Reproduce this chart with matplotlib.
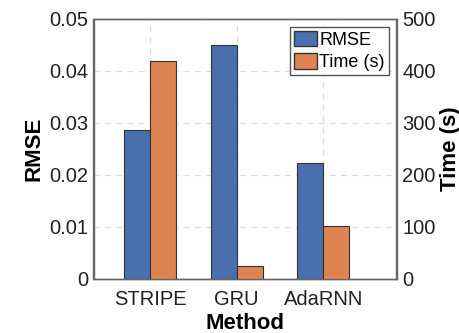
import matplotlib
matplotlib.use("Agg")
import matplotlib.pyplot as plt
import numpy as np
from matplotlib.patches import Patch

plt.rcParams['font.family'] = ['Liberation Sans', 'DejaVu Sans']

methods = ["STRIPE", "GRU", "AdaRNN"]
rmse = [0.0286, 0.0449, 0.0222]
time_s = [419, 25, 101]
rmse_ticks = [0, 0.01, 0.02, 0.03, 0.04, 0.05]
rmse_ticklabels = ["0", "0.01", "0.02", "0.03", "0.04", "0.05"]
time_ticks = [0, 100, 200, 300, 400, 500]

blue = "#4a6fae"
orange = "#de8352"
edge = "#333333"

fig = plt.figure(figsize=(4.6, 3.33), dpi=100)
ax = fig.add_axes([93.5/460, 1-278.5/333, 303/460, 259.5/333])
ax2 = ax.twinx()

x = np.arange(1, len(methods)+1)
w = 0.3
ax.bar(x - w/2, rmse, w, color=blue, edgecolor=edge, linewidth=0.8, zorder=3)
ax2.bar(x + w/2, time_s, w, color=orange, edgecolor=edge, linewidth=0.8, zorder=3)

ax.set_xlim(0.346, 3.846)
ax.set_ylim(0, 0.05)
ax2.set_ylim(0, 500)
ax.set_xticks(x)
ax.set_xticklabels(methods, fontsize=14.5)
ax.set_yticks(rmse_ticks)
ax.set_yticklabels(rmse_ticklabels, fontsize=14.5)
ax2.set_yticks(time_ticks)
ax2.set_yticklabels([str(t) for t in time_ticks], fontsize=14.5)

ax.grid(True, linestyle=(0, (5, 4)), color="#dddddd", linewidth=0.9, zorder=0)
ax.set_axisbelow(True)
for a in (ax, ax2):
    a.tick_params(length=0, colors="#222222", pad=4)
    for s in a.spines.values():
        s.set_color("#666666")
        s.set_linewidth(1.0)
ax.tick_params(axis='x', pad=8)

ax.set_xlabel("Method", fontsize=16, fontweight="bold", labelpad=3)
ax.set_ylabel("RMSE", fontsize=16, fontweight="bold", labelpad=3)
ax2.set_ylabel("Time (s)", fontsize=16, fontweight="bold", labelpad=3)

handles = [Patch(facecolor=blue, edgecolor=edge), Patch(facecolor=orange, edgecolor=edge)]
leg = ax2.legend(handles, ["RMSE", "Time (s)"], loc="upper right",
                 bbox_to_anchor=(1 - 8/303, 1 - 8/259.5),
                 fontsize=13, frameon=True, fancybox=False, framealpha=1, edgecolor="#555555",
                 borderpad=0.2, handlelength=1.28, handleheight=0.95, handletextpad=0.15,
                 labelspacing=0.25, borderaxespad=0.0)
leg.get_frame().set_linewidth(1.0)

fig.savefig("out.png", dpi=100)
